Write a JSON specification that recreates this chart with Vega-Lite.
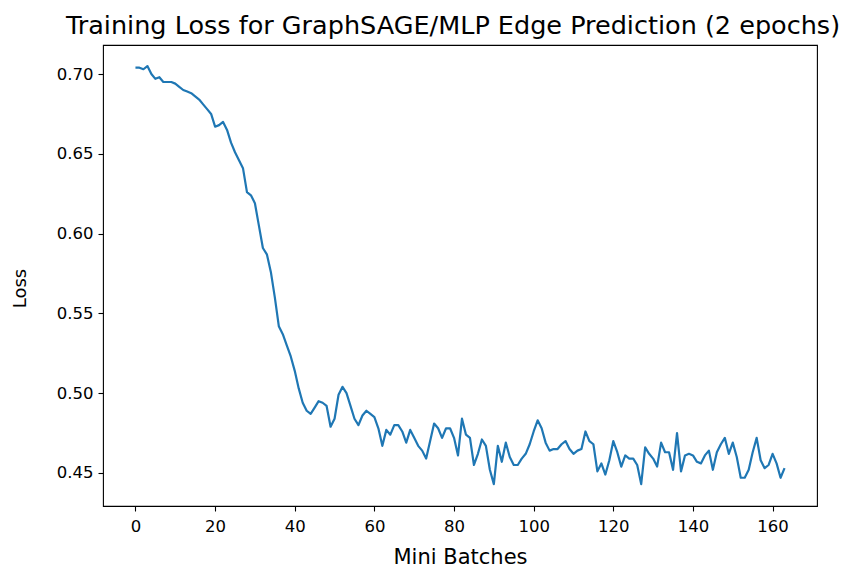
{
  "$schema": "https://vega.github.io/schema/vega-lite/v6.json",
  "width": 714,
  "height": 461,
  "autosize": {"type": "none"},
  "padding": {"left": 103, "top": 45, "right": 29, "bottom": 65},
  "background": "white",
  "title": {
    "text": "Training Loss for GraphSAGE/MLP Edge Prediction (2 epochs)",
    "font": "DejaVu Sans",
    "fontSize": 25.5,
    "fontWeight": "normal",
    "color": "black",
    "anchor": "middle",
    "dx": -7,
    "offset": 6
  },
  "config": {
    "view": {"stroke": "black", "strokeWidth": 1.1},
    "axis": {
      "domain": false,
      "grid": false,
      "ticks": true,
      "tickColor": "black",
      "tickSize": 5,
      "tickWidth": 1.1,
      "labelFont": "DejaVu Sans",
      "labelFontSize": 16.5,
      "labelColor": "black",
      "titleFont": "DejaVu Sans",
      "titleFontSize": 21,
      "titleFontWeight": "normal",
      "titleColor": "black"
    }
  },
  "data": {
    "values": [
      {"batch": 0, "loss": 0.704}, {"batch": 1, "loss": 0.704}, {"batch": 2, "loss": 0.703}, {"batch": 3, "loss": 0.705},
      {"batch": 4, "loss": 0.700}, {"batch": 5, "loss": 0.697}, {"batch": 6, "loss": 0.698}, {"batch": 7, "loss": 0.695},
      {"batch": 8, "loss": 0.695}, {"batch": 9, "loss": 0.695}, {"batch": 10, "loss": 0.694}, {"batch": 11, "loss": 0.692},
      {"batch": 12, "loss": 0.690}, {"batch": 13, "loss": 0.689}, {"batch": 14, "loss": 0.688}, {"batch": 15, "loss": 0.686},
      {"batch": 16, "loss": 0.684}, {"batch": 17, "loss": 0.681}, {"batch": 18, "loss": 0.678}, {"batch": 19, "loss": 0.675},
      {"batch": 20, "loss": 0.667}, {"batch": 21, "loss": 0.668}, {"batch": 22, "loss": 0.670}, {"batch": 23, "loss": 0.665},
      {"batch": 24, "loss": 0.657}, {"batch": 25, "loss": 0.651}, {"batch": 26, "loss": 0.646}, {"batch": 27, "loss": 0.641},
      {"batch": 28, "loss": 0.626}, {"batch": 29, "loss": 0.624}, {"batch": 30, "loss": 0.619}, {"batch": 31, "loss": 0.605},
      {"batch": 32, "loss": 0.591}, {"batch": 33, "loss": 0.587}, {"batch": 34, "loss": 0.576}, {"batch": 35, "loss": 0.560},
      {"batch": 36, "loss": 0.542}, {"batch": 37, "loss": 0.537}, {"batch": 38, "loss": 0.530}, {"batch": 39, "loss": 0.523},
      {"batch": 40, "loss": 0.514}, {"batch": 41, "loss": 0.503}, {"batch": 42, "loss": 0.494}, {"batch": 43, "loss": 0.489},
      {"batch": 44, "loss": 0.487}, {"batch": 45, "loss": 0.491}, {"batch": 46, "loss": 0.495}, {"batch": 47, "loss": 0.494},
      {"batch": 48, "loss": 0.492}, {"batch": 49, "loss": 0.479}, {"batch": 50, "loss": 0.484}, {"batch": 51, "loss": 0.499},
      {"batch": 52, "loss": 0.504}, {"batch": 53, "loss": 0.500}, {"batch": 54, "loss": 0.492}, {"batch": 55, "loss": 0.484},
      {"batch": 56, "loss": 0.480}, {"batch": 57, "loss": 0.486}, {"batch": 58, "loss": 0.489}, {"batch": 59, "loss": 0.487},
      {"batch": 60, "loss": 0.485}, {"batch": 61, "loss": 0.478}, {"batch": 62, "loss": 0.467}, {"batch": 63, "loss": 0.477},
      {"batch": 64, "loss": 0.474}, {"batch": 65, "loss": 0.480}, {"batch": 66, "loss": 0.480}, {"batch": 67, "loss": 0.476},
      {"batch": 68, "loss": 0.469}, {"batch": 69, "loss": 0.477}, {"batch": 70, "loss": 0.472}, {"batch": 71, "loss": 0.467},
      {"batch": 72, "loss": 0.464}, {"batch": 73, "loss": 0.459}, {"batch": 74, "loss": 0.470}, {"batch": 75, "loss": 0.481},
      {"batch": 76, "loss": 0.478}, {"batch": 77, "loss": 0.472}, {"batch": 78, "loss": 0.478}, {"batch": 79, "loss": 0.478},
      {"batch": 80, "loss": 0.472}, {"batch": 81, "loss": 0.461}, {"batch": 82, "loss": 0.484}, {"batch": 83, "loss": 0.474},
      {"batch": 84, "loss": 0.472}, {"batch": 85, "loss": 0.455}, {"batch": 86, "loss": 0.462}, {"batch": 87, "loss": 0.471},
      {"batch": 88, "loss": 0.467}, {"batch": 89, "loss": 0.452}, {"batch": 90, "loss": 0.443}, {"batch": 91, "loss": 0.467},
      {"batch": 92, "loss": 0.457}, {"batch": 93, "loss": 0.469}, {"batch": 94, "loss": 0.460}, {"batch": 95, "loss": 0.455},
      {"batch": 96, "loss": 0.455}, {"batch": 97, "loss": 0.459}, {"batch": 98, "loss": 0.462}, {"batch": 99, "loss": 0.468},
      {"batch": 100, "loss": 0.476}, {"batch": 101, "loss": 0.483}, {"batch": 102, "loss": 0.478}, {"batch": 103, "loss": 0.469},
      {"batch": 104, "loss": 0.464}, {"batch": 105, "loss": 0.465}, {"batch": 106, "loss": 0.465}, {"batch": 107, "loss": 0.468},
      {"batch": 108, "loss": 0.470}, {"batch": 109, "loss": 0.465}, {"batch": 110, "loss": 0.462}, {"batch": 111, "loss": 0.464},
      {"batch": 112, "loss": 0.465}, {"batch": 113, "loss": 0.476}, {"batch": 114, "loss": 0.470}, {"batch": 115, "loss": 0.468},
      {"batch": 116, "loss": 0.451}, {"batch": 117, "loss": 0.456}, {"batch": 118, "loss": 0.449}, {"batch": 119, "loss": 0.458},
      {"batch": 120, "loss": 0.470}, {"batch": 121, "loss": 0.463}, {"batch": 122, "loss": 0.454}, {"batch": 123, "loss": 0.461},
      {"batch": 124, "loss": 0.459}, {"batch": 125, "loss": 0.459}, {"batch": 126, "loss": 0.455}, {"batch": 127, "loss": 0.443},
      {"batch": 128, "loss": 0.466}, {"batch": 129, "loss": 0.462}, {"batch": 130, "loss": 0.459}, {"batch": 131, "loss": 0.454},
      {"batch": 132, "loss": 0.469}, {"batch": 133, "loss": 0.463}, {"batch": 134, "loss": 0.463}, {"batch": 135, "loss": 0.452},
      {"batch": 136, "loss": 0.475}, {"batch": 137, "loss": 0.451}, {"batch": 138, "loss": 0.461}, {"batch": 139, "loss": 0.462},
      {"batch": 140, "loss": 0.461}, {"batch": 141, "loss": 0.457}, {"batch": 142, "loss": 0.456}, {"batch": 143, "loss": 0.461},
      {"batch": 144, "loss": 0.464}, {"batch": 145, "loss": 0.452}, {"batch": 146, "loss": 0.463}, {"batch": 147, "loss": 0.468},
      {"batch": 148, "loss": 0.472}, {"batch": 149, "loss": 0.462}, {"batch": 150, "loss": 0.469}, {"batch": 151, "loss": 0.460},
      {"batch": 152, "loss": 0.447}, {"batch": 153, "loss": 0.447}, {"batch": 154, "loss": 0.452}, {"batch": 155, "loss": 0.463},
      {"batch": 156, "loss": 0.472}, {"batch": 157, "loss": 0.458}, {"batch": 158, "loss": 0.453}, {"batch": 159, "loss": 0.455},
      {"batch": 160, "loss": 0.462}, {"batch": 161, "loss": 0.456}, {"batch": 162, "loss": 0.447}, {"batch": 163, "loss": 0.453}
    ]
  },
  "mark": {"type": "line", "color": "#1f77b4", "strokeWidth": 2.2, "strokeJoin": "round", "strokeCap": "butt"},
  "encoding": {
    "x": {
      "field": "batch",
      "type": "quantitative",
      "scale": {"domain": [-8.15, 171.15], "nice": false, "zero": false},
      "axis": {"values": [0, 20, 40, 60, 80, 100, 120, 140, 160], "title": "Mini Batches", "labelPadding": 7, "titlePadding": 12}
    },
    "y": {
      "field": "loss",
      "type": "quantitative",
      "scale": {"domain": [0.4293, 0.7182], "nice": false, "zero": false},
      "axis": {"values": [0.45, 0.5, 0.55, 0.6, 0.65, 0.7], "format": ".2f", "title": "Loss", "titleFontSize": 18, "titleY": 243, "labelPadding": 5, "titlePadding": 27}
    }
  }
}
